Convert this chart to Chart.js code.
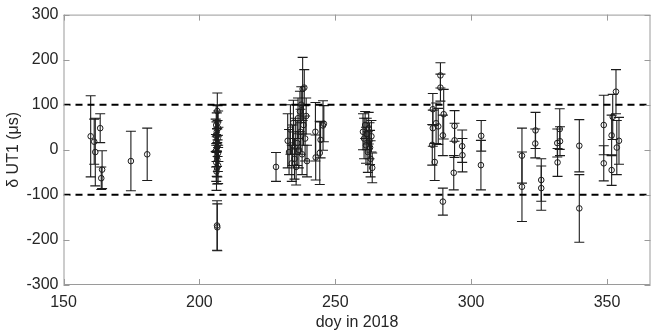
<!DOCTYPE html>
<html>
<head>
<meta charset="utf-8">
<script src="https://cdn.jsdelivr.net/npm/chart.js@4.4.1/dist/chart.umd.min.js"></script>
<style>
  html, body { margin: 0; padding: 0; background: #fff; }
  #wrap { width: 664px; height: 332px; }
</style>
</head>
<body>
<div id="wrap"><canvas id="c"></canvas></div>
<script>
// day of year, dUT1 value (us), 1-sigma error (us)
const days = [
  160.0, 161.3, 161.7, 163.5, 164.2, 163.9, 174.8, 180.8,
  206.6, 206.2, 206.9, 206.4, 206.0, 206.7, 206.3, 207.0, 206.5, 206.1, 206.8, 206.4, 206.6, 206.2, 206.9, 206.5, 206.3, 206.7, 206.6, 206.5,
  228.2,
  232.5, 233.0, 233.5, 234.0, 234.3, 234.6, 235.0, 235.3, 235.6, 236.0, 236.3, 236.6, 237.0, 237.2, 237.5, 237.8, 238.0, 238.3, 238.6, 238.9, 239.3, 239.6,
  242.7, 242.8, 244.3, 244.6, 245.5, 245.8,
  260.2, 260.6, 261.0, 261.3, 261.6, 262.0, 262.3, 262.6, 263.0, 263.3, 263.6, 262.8,
  285.9, 285.9, 285.7, 286.6, 287.1, 287.9, 288.7, 288.7, 289.9, 289.6, 289.6,
  293.9, 293.9, 293.6, 296.7, 296.8,
  303.7, 303.6,
  318.7, 318.7,
  323.7, 323.6, 325.8, 325.8,
  331.7, 331.8, 332.6, 332.7,
  339.8, 339.8,
  348.8, 348.8,
  351.7, 351.7, 352.1, 353.3, 353.6, 354.4
]
const values = [
  30, 18, -5, 48, -44, -63, -25, -10,
  86, 55, 48, 40, 32, 25, 18, 12, 5, -2, -8, -15, -22, -28, -35, -40, -48, 60, -172, -168,
  -38,
  20, -5, 45, -30, 10, 60, -20, 30, -38, 15, 70, 0, 85, 40, 100, -10, 135, 55, 138, 25, 75, -25,
  40, -17, -7, 22, 54, 58,
  40, 25, 55, 10, 35, -5, 48, 20, -20, 30, -40, 5,
  90, 48, 11, -27, 59, 52, 165, 138, 79, 32, -115,
  53, 21, -51, 8, -12,
  31, -34,
  -13, -82,
  43, 14, -67, -85,
  15, -28, 46, 19,
  9, -130,
  55, -30,
  32, -45, 73, 129, 5, 20
]
const errors = [
  90, 50, 75, 32, 42, 25, 66, 58,
  40, 45, 38, 42, 36, 40, 44, 38, 42, 36, 40, 44, 38, 42, 40, 36, 42, 38, 52, 55,
  32,
  60, 50, 55, 40, 45, 50, 45, 40, 40, 50, 45, 40, 45, 50, 40, 45, 70, 45, 40, 50, 40, 35,
  65, 50, 70, 40, 55, 40,
  40, 45, 30, 40, 35, 45, 35, 40, 40, 35, 33, 38,
  35, 40, 45, 41, 45, 40, 28, 30, 55, 45, 30,
  34, 38, 38, 36, 37,
  34, 55,
  61, 77,
  40, 32, 47, 49,
  31, 31, 45, 32,
  58, 75,
  66, 39,
  45, 34, 50, 49, 60, 52
]
const xTicks = [150, 200, 250, 300, 350]
const yTicks = [-300, -200, -100, 0, 100, 200, 300]
const limits = [-100, 100]

const X_MIN = 150, X_MAX = 366

const points = days.map((d, i) => ({ x: d, y: values[i] }))

// error bars under the circles
const errorBars = {
  id: 'errorBars',
  beforeDatasetsDraw(chart) {
    const { ctx, scales: { x, y }, chartArea } = chart
    ctx.save()
    ctx.beginPath()
    ctx.rect(chartArea.left, chartArea.top, chartArea.width, chartArea.height)
    ctx.clip()
    ctx.strokeStyle = '#1c1c1c'
    ctx.lineWidth = 1.1
    days.forEach((d, i) => {
      const px = x.getPixelForValue(d)
      const top = y.getPixelForValue(values[i] + errors[i])
      const bot = y.getPixelForValue(values[i] - errors[i])
      ctx.beginPath()
      ctx.moveTo(px, top); ctx.lineTo(px, bot)
      ctx.moveTo(px - 5, top); ctx.lineTo(px + 5, top)
      ctx.moveTo(px - 5, bot); ctx.lineTo(px + 5, bot)
      ctx.stroke()
    })
    ctx.restore()
  }
}

// matlab-like box with inward ticks on all sides
const axesBox = {
  id: 'axesBox',
  afterDraw(chart) {
    const { ctx, scales: { x, y }, chartArea: a } = chart
    ctx.save()
    ctx.strokeStyle = '#9a9a9a'
    ctx.lineWidth = 1
    ctx.strokeRect(a.left + 0.5, a.top + 0.5, a.width - 1, a.height - 1)
    ctx.beginPath()
    xTicks.forEach(t => {
      const px = Math.round(x.getPixelForValue(t)) + 0.5
      ctx.moveTo(px, a.bottom); ctx.lineTo(px, a.bottom - 6)
      ctx.moveTo(px, a.top); ctx.lineTo(px, a.top + 6)
    })
    yTicks.forEach(t => {
      const py = Math.round(y.getPixelForValue(t)) + 0.5
      ctx.moveTo(a.left, py); ctx.lineTo(a.left + 6, py)
      ctx.moveTo(a.right, py); ctx.lineTo(a.right - 6, py)
    })
    ctx.stroke()
    ctx.restore()
  }
}

const font = { family: "'Liberation Sans', Arial, sans-serif", size: 16 }

new Chart(document.getElementById('c'), {
  type: 'scatter',
  data: {
    datasets: [
      {
        data: points,
        pointStyle: 'circle',
        pointRadius: 2.8,
        pointBorderWidth: 1,
        pointBorderColor: '#1c1c1c',
        pointBackgroundColor: 'rgba(0,0,0,0)',
        showLine: false
      },
      ...limits.map(v => ({
        type: 'line',
        data: [{ x: X_MIN, y: v }, { x: X_MAX, y: v }],
        borderColor: '#000',
        borderWidth: 2,
        borderDash: [7, 5],
        pointRadius: 0,
        fill: false
      }))
    ]
  },
  options: {
    responsive: true,
    maintainAspectRatio: false,
    animation: false,
    events: [],
    layout: { padding: { left: 0, top: 11, right: 13.5, bottom: 0 } },
    plugins: { legend: { display: false }, tooltip: { enabled: false } },
    scales: {
      x: {
        type: 'linear',
        min: X_MIN,
        max: X_MAX,
        afterBuildTicks: s => { s.ticks = xTicks.map(v => ({ value: v })) },
        afterFit: s => { s.height = 47 },
        grid: { display: false, drawTicks: false },
        border: { display: false },
        ticks: { color: '#262626', font, padding: 8, maxRotation: 0 },
        title: { display: true, text: 'doy in 2018', color: '#262626', font, padding: { top: 0, bottom: 0 } }
      },
      y: {
        min: -300,
        max: 300,
        afterBuildTicks: s => { s.ticks = yTicks.map(v => ({ value: v })) },
        afterFit: s => { s.width = 63.5 },
        grid: { display: false, drawTicks: false },
        border: { display: false },
        ticks: { color: '#262626', font, padding: 5 },
        title: { display: true, text: 'δ UT1 (μs)', color: '#262626', font, padding: { top: 4, bottom: 0 } }
      }
    }
  },
  plugins: [errorBars, axesBox]
})
</script>
</body>
</html>
